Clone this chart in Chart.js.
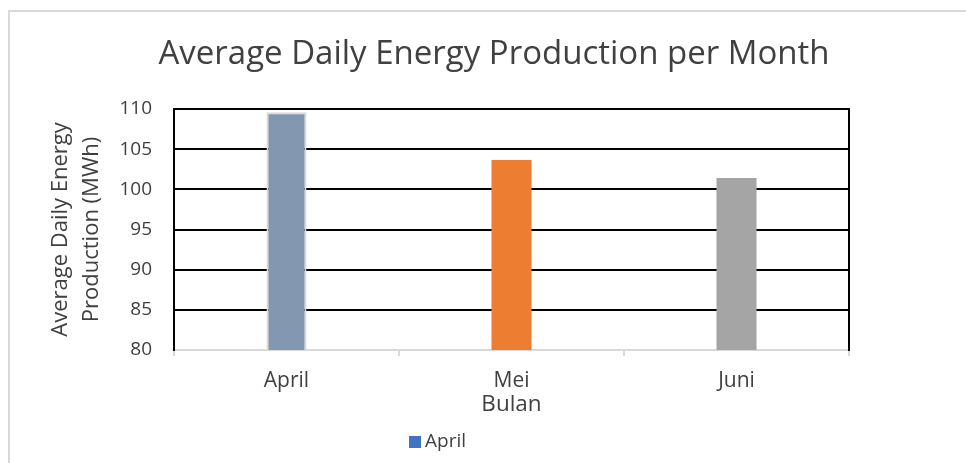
<!DOCTYPE html>
<html><head><meta charset="utf-8">
<script src="https://cdn.jsdelivr.net/npm/chart.js@4"></script>
<style>
html,body{margin:0;padding:0;background:#fff;overflow:hidden;width:966px;height:463px;}
#frame{position:absolute;left:8px;top:10px;width:2000px;height:2000px;border-top:2px solid #d9d9d9;border-left:2px solid #d9d9d9;}
#wrap{position:absolute;left:0;top:0;width:966px;height:463px;}
</style></head><body>
<div id="frame"></div>
<div id="wrap"><canvas id="c" width="966" height="463"></canvas></div>
<script>
const categories = ['April', 'Mei', 'Juni'];
const seriesLabel = 'April';
const values = [109.6, 103.65, 101.4];
const barColors = ['#8497B0', '#ED7D31', '#A5A5A5'];
const yTicks = [80, 85, 90, 95, 100, 105, 110];
const legendColor = '#4472C4';
const chartTitle = 'Average Daily Energy Production per Month';
const yTitle = ['Average Daily Energy', 'Production (MWh)'];
const xTitle = 'Bulan';

const FONT = "'Open Sans', 'DejaVu Sans', sans-serif";
const TXT = '#404040';

const legendPlugin = {
  id: 'customLegend',
  afterDraw(chart) {
    const ctx = chart.ctx;
    ctx.save();
    ctx.font = "19px " + FONT;
    const label = chart.data.datasets[0].label;
    const tw = ctx.measureText(label).width;
    const box = 12, gap = 4;
    const total = box + gap + tw;
    const cx = 437.5, cy = 442;
    const x0 = cx - total / 2;
    ctx.fillStyle = legendColor;
    ctx.fillRect(x0, cy - box / 2, box, box);
    ctx.fillStyle = TXT;
    ctx.textBaseline = 'middle';
    ctx.textAlign = 'left';
    ctx.fillText(label, x0 + box + gap, cy);
    ctx.restore();
  }
};

new Chart(document.getElementById('c'), {
  type: 'bar',
  data: {
    labels: categories,
    datasets: [{
      label: seriesLabel,
      data: values,
      backgroundColor: barColors,
      borderColor: ['#d9d9d9', 'rgba(0,0,0,0)', 'rgba(0,0,0,0)'],
      borderWidth: [2, 0, 0],
      barPercentage: 0.178,
      categoryPercentage: 1.0,
      yAxisID: 'y'
    }]
  },
  options: {
    responsive: false,
    animation: false,
    layout: { padding: { left: 22, right: 0, top: 0, bottom: 39 } },
    plugins: {
      legend: { display: false },
      tooltip: { enabled: false },
      title: {
        display: true,
        text: chartTitle,
        color: TXT,
        font: { family: FONT, size: 33, weight: 'normal' },
        padding: { top: 35, bottom: 34.4 }
      }
    },
    scales: {
      x: {
        afterFit(s) { s.height = 74; },
        grid: { offset: true, drawOnChartArea: false, drawTicks: true, tickLength: 6, color: '#d9d9d9', lineWidth: 2 },
        border: { display: true, color: '#d9d9d9', width: 2 },
        ticks: { color: TXT, font: { family: FONT, size: 21 }, padding: 12 },
        title: { display: true, text: xTitle, color: TXT, font: { family: FONT, size: 22.5 }, padding: { top: 0, bottom: 6 } }
      },
      y: {
        position: 'left',
        min: 80, max: 110,
        afterFit(s) { s.width = 152; },
        afterBuildTicks(s) { s.ticks = yTicks.map(v => ({ value: v })); },
        grid: {
          drawTicks: false,
          lineWidth: 2,
          color: (c) => (c.tick && c.tick.value === 80) ? 'rgba(0,0,0,0)' : '#000'
        },
        border: { display: true, color: '#000', width: 2 },
        ticks: { color: TXT, font: { family: FONT, size: 19 }, padding: 22 },
        title: { display: true, text: yTitle, color: TXT, font: { family: FONT, size: 22, lineHeight: 1.4 }, padding: { top: 23.5, bottom: 0 } }
      },
      y2: {
        position: 'right',
        afterFit(s) { s.width = 117; },
        grid: { drawOnChartArea: false, drawTicks: false },
        border: { display: true, color: '#000', width: 2 },
        ticks: { display: false }
      }
    }
  },
  plugins: [legendPlugin]
});
</script>
</body></html>
